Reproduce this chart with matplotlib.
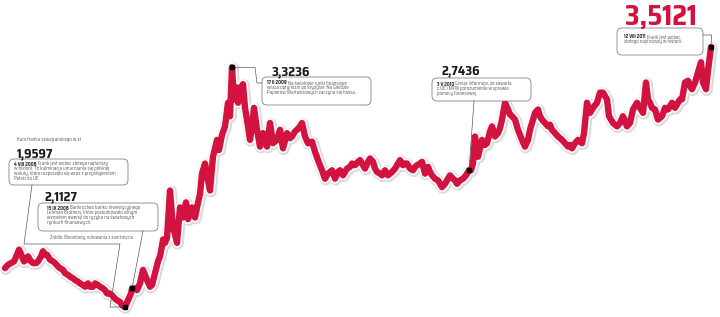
import matplotlib
matplotlib.use("Agg")
import matplotlib.pyplot as plt
import matplotlib.patheffects as pe
from matplotlib.patches import FancyBboxPatch

# ---------------- data ----------------
# time axis (arbitrary, evenly scaled units along the chart)
t = [
    5, 8, 11, 14, 17, 19, 22, 24, 26, 28,
    31, 33, 36, 38, 41, 43, 45, 47, 50, 53,
    55, 58, 60, 63, 65, 68, 70, 73, 75, 78,
    80, 83, 85, 88, 90, 93, 95, 98, 100, 103,
    105, 107, 110, 112, 115, 117, 120, 122, 125, 128,
    131, 132, 135, 137, 140, 143, 145, 147, 150, 152,
    155, 158, 160, 162, 163, 165, 167, 170, 172, 173,
    175, 177, 180, 183, 186, 188, 190, 192, 195, 197,
    200, 202, 205, 208, 210, 213, 217, 219, 222, 225,
    228, 230, 232, 234, 237, 238, 240, 243, 245, 248,
    250, 252, 254, 257, 260, 263, 267, 270, 273, 277,
    280, 283, 287, 290, 292, 295, 297, 300, 302, 305,
    308, 312, 315, 318, 322, 325, 328, 332, 335, 338,
    340, 343, 347, 350, 352, 355, 358, 360, 363, 365,
    368, 370, 373, 375, 377, 380, 382, 385, 388, 390,
    392, 395, 397, 400, 403, 405, 407, 410, 413, 415,
    417, 420, 422, 425, 428, 430, 432, 435, 438, 440,
    442, 445, 448, 450, 453, 455, 457, 460, 463, 466,
    469, 471, 473, 475, 476, 478, 480, 482, 485, 487,
    490, 492, 495, 498, 500, 502, 505, 508, 510, 512,
    515, 518, 520, 522, 525, 528, 530, 532, 535, 538,
    540, 542, 545, 548, 550, 552, 555, 558, 560, 562,
    565, 568, 570, 572, 575, 578, 580, 582, 584, 587,
    590, 593, 597, 600, 603, 605, 607, 609, 611, 613,
    615, 617, 620, 623, 625, 627, 630, 633, 635, 637,
    640, 643, 646, 648, 650, 652, 655, 658, 660, 662,
    665, 668, 670, 672, 675, 678, 680, 682, 685, 688,
    690, 692, 695, 698, 701, 703, 706, 708, 710, 711,
]
# CHF/PLN rate
rate = [
    2.19, 2.21, 2.22, 2.23, 2.27, 2.30, 2.26, 2.23, 2.24, 2.26,
    2.23, 2.22, 2.22, 2.23, 2.26, 2.29, 2.27, 2.27, 2.24, 2.23,
    2.22, 2.20, 2.19, 2.18, 2.16, 2.15, 2.14, 2.13, 2.12, 2.11,
    2.10, 2.09, 2.08, 2.10, 2.08, 2.08, 2.10, 2.09, 2.08, 2.07,
    2.06, 2.04, 2.04, 2.03, 2.01, 2.00, 1.99, 1.97, 1.96, 2.00,
    2.04, 2.07, 2.07, 2.06, 2.10, 2.18, 2.15, 2.12, 2.08, 2.09,
    2.16, 2.23, 2.26, 2.32, 2.36, 2.34, 2.37, 2.65, 2.50, 2.43,
    2.39, 2.34, 2.55, 2.49, 2.58, 2.48, 2.52, 2.55, 2.49, 2.55,
    2.63, 2.75, 2.81, 2.71, 2.65, 2.85, 2.95, 2.89, 2.98, 3.03,
    3.17, 3.09, 3.38, 3.19, 3.26, 3.17, 3.25, 3.28, 3.14, 3.03,
    2.95, 3.03, 3.14, 3.01, 2.91, 2.99, 2.91, 3.05, 2.93, 2.95,
    3.01, 2.90, 2.99, 2.96, 2.97, 3.00, 3.01, 3.03, 3.05, 2.97,
    2.93, 2.94, 2.88, 2.83, 2.77, 2.72, 2.75, 2.77, 2.72, 2.76,
    2.77, 2.74, 2.78, 2.79, 2.81, 2.80, 2.82, 2.83, 2.80, 2.78,
    2.82, 2.84, 2.82, 2.78, 2.76, 2.75, 2.74, 2.77, 2.74, 2.75,
    2.76, 2.78, 2.80, 2.83, 2.80, 2.81, 2.81, 2.78, 2.77, 2.79,
    2.80, 2.81, 2.82, 2.75, 2.79, 2.76, 2.74, 2.72, 2.71, 2.69,
    2.67, 2.69, 2.72, 2.74, 2.72, 2.71, 2.69, 2.71, 2.72, 2.74,
    2.77, 2.77, 2.81, 2.97, 2.92, 2.85, 2.90, 2.95, 2.92, 2.93,
    3.00, 3.03, 2.97, 2.99, 3.02, 3.07, 3.17, 3.13, 3.10, 3.09,
    3.07, 3.01, 2.98, 2.95, 2.91, 2.95, 3.01, 3.05, 3.11, 3.13,
    3.09, 3.07, 3.05, 3.03, 3.04, 3.01, 2.99, 2.97, 2.96, 2.95,
    2.93, 2.91, 2.92, 2.90, 2.93, 2.95, 2.94, 2.93, 2.99, 3.17,
    3.11, 3.14, 3.17, 3.23, 3.23, 3.21, 3.19, 3.09, 3.07, 3.05,
    3.04, 3.03, 3.05, 3.09, 3.06, 3.03, 3.05, 3.13, 3.15, 3.17,
    3.14, 3.11, 3.29, 3.19, 3.17, 3.14, 3.13, 3.07, 3.08, 3.09,
    3.14, 3.13, 3.15, 3.17, 3.14, 3.17, 3.19, 3.19, 3.29, 3.30,
    3.27, 3.25, 3.29, 3.35, 3.41, 3.29, 3.25, 3.36, 3.45, 3.50,
]

event_t = [125, 132, 232, 469, 711]
event_values = ["1,9597", "2,1127", "3,3236", "2,7436", "3,5121"]
event_dates = ["4 VIII 2008", "15 IX 2008", "17 II 2009", "3 V 2010", "12 VIII 2011"]
event_texts = [
    ["Frank jest wobec złotego najtańszy",
     "w historii. To kulminacja umacniania się polskiej",
     "waluty, które rozpoczęło się wraz z przystąpieniem",
     "Polski do UE."],
    ["Bankructwo banku inwestycyjnego",
     "Lehman Brothers, które poskutkowało silnym",
     "wzrostem awersji do ryzyka na światowych",
     "rynkach finansowych."],
    ["Na światowe rynki finansowe",
     "wraca optymizm po kryzysie. Na Giełdzie",
     "Papierów Wartościowych zaczyna się hossa."],
    ["Grecja informuje, że zawarła",
     "z UE i MFW porozumienie w sprawie",
     "pomocy finansowej."],
    ["Frank jest wobec",
     "złotego najdroższy w historii."],
]
subtitle = "Kurs franka szwajcarskiego w zł"
source = "Źródło: Bloomberg, notowania z zamknięcia"

# ---------------- styling ----------------
RED = "#d2123f"
NARROW = ["Saira SemiCondensed", "DejaVu Sans"]
W, H = 720, 317

fig = plt.figure(figsize=(7.2, 3.17), dpi=100)
fig.patch.set_facecolor("white")

ax = fig.add_axes([0, 0, 1, 1])
ax.set_xlim(0, 720)
ax.set_ylim(1.9008, 3.7787)
ax.axis("off")

line, = ax.plot(t, rate, color=RED, lw=4.6, solid_joinstyle="round",
                solid_capstyle="round", zorder=3)
line.set_path_effects([
    pe.SimpleLineShadow(offset=(0.6, -0.6), shadow_color="#b0b0b0", alpha=0.45, linewidth=8.6),
    pe.Stroke(linewidth=6.9, foreground="white"),
    pe.Normal(),
])

# overlay in pixel units (origin top-left) for the annotation layout
ov = fig.add_axes([0, 0, 1, 1], zorder=5)
ov.set_xlim(0, W)
ov.set_ylim(H, 0)
ov.axis("off")
ov.patch.set_alpha(0)

R = fig.canvas.get_renderer()


def marker_px(i):
    k = t.index(event_t[i])
    d = ax.transData.transform((t[k], rate[k]))
    return ov.transData.inverted().transform(d)


mk = [marker_px(i) for i in range(len(event_t))]
for (mx, my) in mk:
    ov.plot([mx], [my], marker="s", ms=2.8, color="black", zorder=8)

LC = "#4a4a4a"


def leader(pts):
    xs = [p[0] for p in pts]
    ys = [p[1] for p in pts]
    ov.plot(xs, ys, color=LC, lw=0.45, zorder=6)


def box(x0, y0, x1, y1):
    p = FancyBboxPatch((x0, y0), x1 - x0, y1 - y0,
                       boxstyle="round,pad=0,rounding_size=5",
                       fc="white", ec="#6a6a6a", lw=0.5, zorder=6)
    ov.add_patch(p)


def rich(x, y, bold, rest, fs=3.5):
    tb = ov.text(x, y, bold, fontsize=fs, fontweight="bold", color="#2a2a2a",
                 va="center", ha="left", family=NARROW, zorder=7)
    w = tb.get_window_extent(renderer=R).width
    ov.text(x + w + 1.2, y, rest, fontsize=fs, color="#5a5a5a",
            va="center", ha="left", family=NARROW, zorder=7)


def body(x, y, s, fs=3.5, color="#5a5a5a"):
    ov.text(x, y, s, fontsize=fs, color=color, va="center", ha="left",
            family=NARROW, zorder=7)


def number(x, y, s, fs=9.3, color="#1a1a1a"):
    ov.text(x, y, s, fontsize=fs, fontweight="bold", color=color,
            va="baseline", ha="left", family=NARROW, zorder=7)


def event_box(i, x0, y0, x1, y1, tx, ty, dy=4.9):
    box(x0, y0, x1, y1)
    lines = event_texts[i]
    rich(tx, ty, event_dates[i], lines[0])
    for j, s in enumerate(lines[1:], start=1):
        body(tx, ty + j * dy, s)


# event 1 : 4 VIII 2008
body(17, 140, subtitle)
number(17, 157, event_values[0])
event_box(0, 9, 159, 128, 185, 14, 164)
leader([(32, 185), (24, 244), (120, 244), (110, mk[0][1]), (mk[0][0], mk[0][1])])

# event 2 : 15 IX 2008
number(44, 200, event_values[1])
event_box(1, 38, 203, 158, 231, 47, 208)
body(50, 237, source, fs=3.3)
leader([(143, 231), (mk[1][0], mk[1][1])])

# event 3 : 17 II 2009
number(271, 75, event_values[2])
event_box(2, 262, 77, 371, 105, 267, 83)
leader([(mk[2][0], mk[2][1]), (255, mk[2][1]), (257, 83), (262, 83)])

# event 4 : 3 V 2010
number(441, 74, event_values[3])
event_box(3, 432, 78, 531, 101, 437, 84)
leader([(474, 101), (mk[3][0], mk[3][1])])

# event 5 : 12 VIII 2011
number(625, 25, event_values[4], fs=20, color=RED)
event_box(4, 617, 28, 703, 55, 624, 37)
leader([(703, 35), (mk[4][0] + 0.5, 35), (mk[4][0], mk[4][1])])

fig.savefig("out.png", dpi=100, facecolor="white")
